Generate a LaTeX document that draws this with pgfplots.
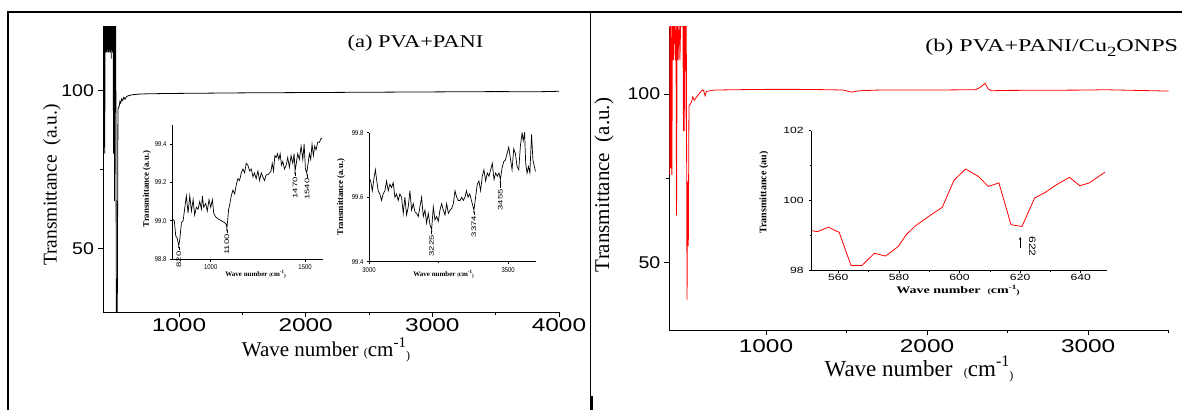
\documentclass[border=0pt]{standalone}
\usepackage{pgfplots}
\pgfplotsset{compat=1.18}
\usepackage{fontspec}
\setmainfont{Liberation Serif}
\setsansfont{Liberation Sans}
\usetikzlibrary{arrows.meta}
\newcommand{\fs}[1]{\fontsize{#1}{#1}\selectfont}
\newcommand{\cmlab}[1]{{\fs{12}(}cm\raisebox{0.45em}{\fs{#1}-1}\raisebox{-3pt}{\fs{12})}}
\newcommand{\cmlabs}[2]{{\fs{#2}(}cm\raisebox{0.4em}{\fs{#1}-1}\raisebox{-1pt}{\fs{#2})}}
\tikzset{anno/.style={font=\sffamily\fs{6.6}, inner sep=0.5pt}}
\pgfplotsset{
  mainax/.style={scale only axis, anchor=south west,
    axis x line*=bottom, axis y line*=left,
    axis line style={-, line width=0.9pt, black},
    tick align=outside, major tick length=5pt, minor tick length=3pt,
    tick style={line width=0.8pt, black},
    xmin=400, ymin=30, ymax=120, ytick={50,100}, minor y tick num=1,
    xtick={1000,2000,3000,4000}, minor x tick num=1,
    scaled ticks=false,
    /pgf/number format/1000 sep={}, /pgf/number format/assume math mode=true,
    xticklabel style={font=\sffamily\fs{18.5}, xscale=1.32, inner sep=1pt},
    yticklabel style={font=\sffamily\fs{17}, xscale=1.15},
    clip mode=individual},
  insetax/.style={scale only axis, anchor=south west,
    axis x line*=bottom, axis y line*=left,
    axis line style={-, line width=0.6pt, black},
    tick align=outside, major tick length=2.5pt, minor tick length=1.5pt,
    tick style={line width=0.5pt, black},
    scaled ticks=false,
    /pgf/number format/1000 sep={}, /pgf/number format/assume math mode=true,
    clip mode=individual},
}
\begin{document}
\begin{tikzpicture}[x=1pt,y=1pt]
\useasboundingbox (0,0) rectangle (1182,410);
\draw[line width=2pt] (8,0) -- (8,398) -- (1182,398);
\draw[line width=1.4pt] (590.5,398) -- (590.5,0);
\draw[line width=3pt] (591.5,0) -- (591.5,14);

% ---------------- (a) main
\begin{axis}[mainax, at={(103pt,98pt)}, width=456pt, height=285pt, xmax=4000]
\addplot[black, line width=0.8pt] coordinates {
(400,82) (401,125) (404,80) (406,125) (409,82) (411,125) (414,80) (416,125)
(420,112) (424,125) (428,112) (432,125) (437,112) (441,125) (446,112) (450,125)
(455,112) (460,125) (465,110) (470,125) (476,112) (480,125) (483,80) (487,125)
(491,65) (495,125) (500,125) (506,20) (512,20) (518,94) (522,94.5) (528,95)
(534,96.5) (540,96) (548,97.3) (556,96.8) (565,97.8) (575,97.2) (585,98)
(600,98.3) (630,98.6) (680,98.8) (750,98.9) (900,99.0) (1200,99.1) (1500,99.2)
(2000,99.3) (2500,99.4) (3000,99.5) (3500,99.6) (3800,99.55) (3900,99.6) (4000,99.7)};
\end{axis}

% ---------------- (a) inset 1
\begin{axis}[insetax, at={(172pt,151pt)}, width=151pt, height=134pt,
  xmin=795, xmax=1595, ymin=98.8, ymax=99.5,
  xtick={1000,1500}, ytick={98.8,99.0,99.2,99.4},
  xticklabel style={font=\sffamily\fs{7}, xscale=0.85},
  yticklabel style={font=\sffamily\fs{7}, xscale=0.85,
    /pgf/number format/fixed, /pgf/number format/fixed zerofill,
    /pgf/number format/precision=1}]
\addplot[black, line width=0.7pt] coordinates {
(796,99.01) (807,99.0) (815,98.92) (822,98.91) (831,98.87) (836,98.9) (845,98.99)
(854,99.0) (863,99.07) (871,99.13) (880,99.04) (889,99.13) (898,99.05) (907,99.11)
(915,99.03) (924,99.07) (933,99.06) (942,99.1) (951,99.06) (956,99.13) (963,99.07)
(974,99.09) (982,99.05) (991,99.11) (1000,99.07) (1009,99.11) (1016,99.04)
(1026,99.02) (1039,99.01) (1056,99.0) (1074,98.99) (1083,98.98) (1086,98.96)
(1095,99.06) (1100,99.08) (1109,99.13) (1118,99.16) (1127,99.14) (1136,99.19)
(1144,99.22) (1153,99.21) (1162,99.25) (1171,99.27) (1180,99.25) (1188,99.30)
(1197,99.29) (1206,99.26) (1215,99.27) (1224,99.23) (1232,99.25) (1241,99.22)
(1250,99.26) (1259,99.21) (1268,99.25) (1276,99.23) (1285,99.21) (1294,99.24)
(1303,99.24) (1312,99.25) (1320,99.26) (1326,99.30) (1333,99.26) (1340,99.34)
(1347,99.33) (1354,99.35) (1361,99.32) (1368,99.35) (1375,99.29) (1382,99.31)
(1391,99.27) (1400,99.29) (1408,99.33) (1417,99.28) (1426,99.34) (1435,99.30)
(1442,99.35) (1447,99.26) (1452,99.29) (1461,99.35) (1470,99.32) (1479,99.39)
(1488,99.32) (1495,99.40) (1502,99.27) (1509,99.25) (1516,99.30) (1523,99.35)
(1530,99.32) (1537,99.40) (1544,99.34) (1551,99.39) (1558,99.37) (1567,99.41)
(1576,99.41) (1585,99.43) (1590,99.43)};
\draw[-{Stealth[length=2pt,width=1.6pt]}, line width=0.4pt] (axis cs:831,98.845) -- (axis cs:831,98.868);
\node[anno, rotate=90, xscale=1.45, anchor=east] at (axis cs:831,98.845) {820};
\draw[-{Stealth[length=2pt,width=1.6pt]}, line width=0.4pt] (axis cs:1086,98.935) -- (axis cs:1086,98.958);
\node[anno, rotate=90, xscale=1.45, anchor=east] at (axis cs:1086,98.935) {1100};
\draw[-{Stealth[length=2pt,width=1.6pt]}, line width=0.4pt] (axis cs:1447,99.232) -- (axis cs:1447,99.256);
\node[anno, rotate=90, xscale=1.45, anchor=east] at (axis cs:1447,99.232) {1470};
\draw[-{Stealth[length=2pt,width=1.6pt]}, line width=0.4pt] (axis cs:1511,99.225) -- (axis cs:1511,99.247);
\node[anno, rotate=90, xscale=1.45, anchor=east] at (axis cs:1511,99.225) {1540};
\end{axis}

% ---------------- (a) inset 2
\begin{axis}[insetax, at={(369pt,148.3pt)}, width=167pt, height=129pt,
  xmin=3000, xmax=3600, ymin=99.4, ymax=99.8,
  xtick={3000,3500}, minor x tick num=1, ytick={99.4,99.6,99.8},
  xticklabel style={font=\sffamily\fs{7}, xscale=0.85},
  yticklabel style={font=\sffamily\fs{7}, xscale=0.85,
    /pgf/number format/fixed, /pgf/number format/fixed zerofill,
    /pgf/number format/precision=1}]
\addplot[black, line width=0.7pt] coordinates {
(3000,99.66) (3006,99.65) (3012,99.62) (3018,99.66) (3023,99.685) (3028,99.65)
(3033,99.62) (3039,99.61) (3045,99.59) (3051,99.61) (3057,99.62) (3063,99.65)
(3069,99.62) (3075,99.64) (3081,99.63) (3087,99.645) (3093,99.60) (3099,99.61)
(3105,99.59) (3111,99.61) (3117,99.60) (3123,99.55) (3129,99.60) (3135,99.545)
(3141,99.57) (3147,99.62) (3153,99.56) (3159,99.58) (3165,99.555) (3171,99.55)
(3177,99.54) (3183,99.57) (3189,99.60) (3195,99.54) (3201,99.56) (3207,99.52)
(3213,99.55) (3219,99.515) (3225,99.50) (3231,99.57) (3237,99.53) (3243,99.54)
(3249,99.525) (3255,99.56) (3261,99.58) (3267,99.56) (3273,99.545) (3279,99.58)
(3285,99.55) (3291,99.56) (3297,99.565) (3303,99.58) (3309,99.62) (3315,99.60)
(3321,99.59) (3327,99.59) (3333,99.60) (3339,99.59) (3345,99.60) (3350,99.62)
(3356,99.60) (3362,99.61) (3371,99.58) (3377,99.56) (3383,99.60) (3389,99.64)
(3395,99.65) (3401,99.62) (3407,99.665) (3413,99.685) (3419,99.65) (3425,99.675)
(3431,99.665) (3437,99.685) (3443,99.705) (3449,99.655) (3455,99.675) (3461,99.665)
(3467,99.675) (3472,99.655) (3478,99.69) (3484,99.71) (3490,99.715) (3496,99.735)
(3502,99.755) (3508,99.72) (3514,99.685) (3520,99.75) (3526,99.735) (3532,99.695)
(3538,99.685) (3544,99.76) (3550,99.80) (3554,99.775) (3559,99.80) (3563,99.705)
(3568,99.675) (3573,99.695) (3578,99.675) (3584,99.795) (3589,99.715) (3593,99.70)
(3598,99.68)};
\draw[-{Stealth[length=2pt,width=1.6pt]}, line width=0.4pt] (axis cs:3225,99.485) -- (axis cs:3225,99.498);
\node[anno, rotate=90, xscale=1.45, anchor=east] at (axis cs:3225,99.485) {3225};
\draw[-{Stealth[length=2pt,width=1.6pt]}, line width=0.4pt] (axis cs:3377,99.545) -- (axis cs:3377,99.558);
\node[anno, rotate=90, xscale=1.45, anchor=east] at (axis cs:3377,99.545) {3374};
\draw[-{Stealth[length=2pt,width=1.6pt]}, line width=0.4pt] (axis cs:3472,99.628) -- (axis cs:3472,99.652);
\node[anno, rotate=90, xscale=1.45, anchor=east] at (axis cs:3472,99.628) {3455};
\end{axis}

% ---------------- (b) main
\begin{axis}[mainax, at={(669.3pt,80pt)}, width=499.4pt, height=303.3pt, xmax=3500,
  xticklabel style={yshift=-3pt}]
\addplot[red, line width=0.8pt] coordinates {
(400,125) (403,76) (406,125) (409,78) (412,125) (416,76) (420,125) (425,110)
(430,125) (437,110) (441,125) (445,64) (449,125) (455,110) (460,125) (466,110)
(472,125) (478,120) (484,125) (488,89) (492,125) (496,89) (500,125) (505,125)
(510,39) (514,74) (518,55) (522,96.5) (530,97) (540,98) (545,99.2) (555,98.2)
(570,99.2) (600,101.0) (612,101.2) (622,99.5) (630,100.8) (680,101.2) (800,101.3)
(1000,101.4) (1200,101.4) (1400,101.3) (1480,101.2) (1530,100.6) (1580,101.0)
(1700,101.2) (2000,101.2) (2300,101.3) (2330,102.0) (2360,103.2) (2380,101.5)
(2400,101.0) (2500,101.1) (3000,101.2) (3100,101.3) (3300,101.1) (3500,100.9)};
\end{axis}

% ---------------- (b) inset
\begin{axis}[insetax, at={(811pt,140pt)}, width=295.5pt, height=139.3pt,
  xmin=551, xmax=648.5, ymin=98, ymax=102,
  xtick={560,580,600,620,640}, minor x tick num=1,
  ytick={98,100,102}, minor y tick num=1,
  xticklabel style={font=\sffamily\fs{9}, xscale=1.35, inner sep=1.5pt},
  yticklabel style={font=\sffamily\fs{9}, xscale=1.35}]
\addplot[red, line width=0.8pt] coordinates {
(551.3,99.13) (553.1,99.10) (556.8,99.23) (560.3,99.08) (564.2,98.13) (567.8,98.13)
(571.9,98.48) (575.6,98.40) (579.7,98.67) (582.4,99.01) (585.2,99.25) (587.4,99.39)
(590.7,99.59) (594.3,99.80) (598.2,100.58) (602.0,100.90) (606.2,100.69)
(609.5,100.40) (613.0,100.50) (617.0,99.30) (620.6,99.25) (624.8,100.07)
(628.3,100.23) (632,100.45) (636.3,100.66) (639.7,100.42) (642.8,100.50) (648,100.81)};
\draw[-{Stealth[length=3pt,width=2.5pt]}, line width=0.6pt] (axis cs:620,98.63) -- (axis cs:620,98.95);
\node[font=\sffamily\fs{9.3}, rotate=-90, xscale=1.3, anchor=west, inner sep=0pt] at (axis cs:624,98.97) {622};
\end{axis}

% ---------------- labels
\node[font=\fs{19.5}, rotate=90] at (52,225) {Transmittance\ \ (a.u.)};
\node[font=\fs{21}] at (326,60) {Wave number \cmlab{15}};
\node[font=\fs{18}, xscale=1.25] at (415.5,367) {(a) PVA+PANI};
\node[font=\bfseries\fs{8.8}, rotate=90] at (146.7,221) {Transmittance (a.u.)};
\node[font=\bfseries\fs{7}] at (255.5,136) {Wave number \cmlabs{5}{5}};
\node[font=\bfseries\fs{8.8}, rotate=90] at (341,213) {Transmittance (a.u.)};
\node[font=\bfseries\fs{7}] at (443.5,136) {Wave number \cmlabs{5}{5}};

\node[font=\fs{21}, rotate=90] at (604,225) {Transmittance\ \ (a.u.)};
\node[font=\fs{23}] at (919,41) {Wave number\ \ \cmlab{16}};
\node[font=\fs{18}, xscale=1.34] at (1051.7,362) {(b) PVA+PANI/Cu\raisebox{-0.25em}{\fs{14}2}ONPS};
\node[font=\bfseries\fs{10}, rotate=90] at (764,217.5) {Transmittance (au)};
\node[font=\bfseries\fs{10}, xscale=1.4] at (958,119) {Wave number \ \cmlabs{6.5}{7}};
\end{tikzpicture}
\end{document}
